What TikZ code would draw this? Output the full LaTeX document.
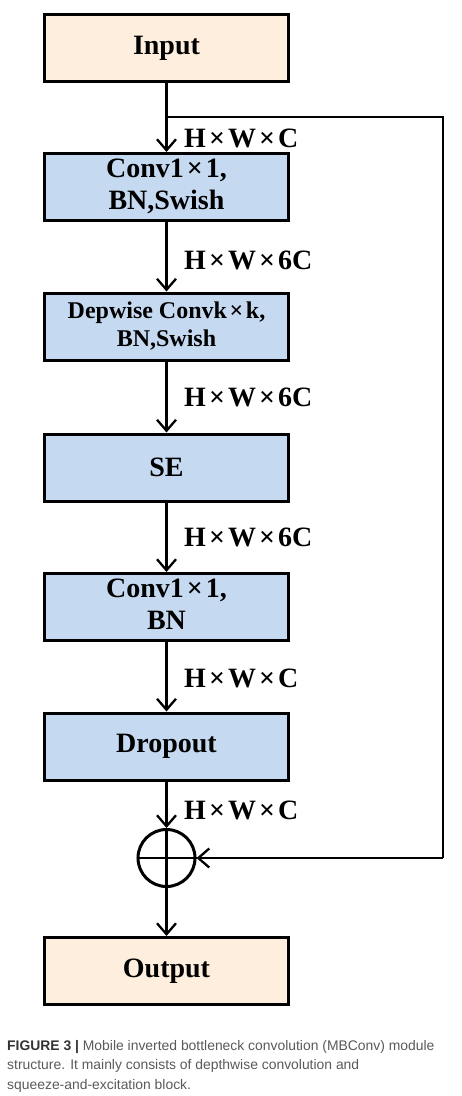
\documentclass[tikz,border=0pt]{standalone}
\usepackage{fontspec}
\setmainfont{Liberation Serif}
\newfontfamily\capfont{Liberation Sans}
\usetikzlibrary{arrows.meta}
\definecolor{peach}{HTML}{FDEEDD}
\definecolor{lblue}{HTML}{C5D9F1}
\definecolor{capdark}{HTML}{333333}
\definecolor{capgray}{HTML}{5A5A5A}
\newcommand\tms{\kern0.11em×\kern0.11em}
\begin{document}
\begin{tikzpicture}[x=1pt,y=-1pt,
  blk/.style={draw=black,line width=3pt,minimum width=244pt,minimum height=67pt,inner sep=0pt,align=center,font=\bfseries\fontsize{28}{33}\selectfont},
  ioblk/.style={blk,fill=peach},
  opblk/.style={blk,fill=lblue},
  lbl/.style={anchor=west,inner sep=0pt,font=\bfseries\fontsize{28}{33}\selectfont},
  conn/.style={line width=2.3pt},
  arr/.style={conn,-{Straight Barb[length=11pt,width=19pt,line width=2.3pt]}}]
\useasboundingbox (0,0) rectangle (462,1096);
\fill[white] (0,0) rectangle (462,1096);
\node[ioblk] (in) at (166.5,48) {Input};
\node[opblk] (c1) at (166.5,187) {\raisebox{-2pt}{\begin{tabular}{@{}c@{}}Conv1\tms1,\\[-1pt]BN,Swish\end{tabular}}};
\node[opblk,font=\bfseries\fontsize{24}{28}\selectfont] (dw) at (166.5,326.5) {Depwise Convk\tms k,\\BN,Swish};
\node[opblk] (se) at (166.5,467.5) {SE};
\node[opblk] (c2) at (166.5,607) {\raisebox{-2pt}{\begin{tabular}{@{}c@{}}Conv1\tms1,\\[-1pt]BN\end{tabular}}};
\node[opblk] (dr) at (166.5,746.5) {Dropout};
\node[draw=black,line width=3pt,circle,minimum size=57pt,inner sep=0pt] (add) at (166.5,858) {};
\node[ioblk] (out) at (166.5,971) {Output};
\coordinate (sp) at (166.5,117);
\coordinate (r1) at (443,117);
\coordinate (r2) at (443,858);
\draw[arr] (in) -- (c1);
\draw[arr] (c1) -- (dw);
\draw[arr] (dw) -- (se);
\draw[arr] (se) -- (c2);
\draw[arr] (c2) -- (dr);
\draw[arr] (dr) -- (add);
\draw[arr] (add) -- (out);
\draw[conn] (add.north) -- (add.south);
\draw[conn] (add.west) -- (add.east);
\draw[conn,line join=miter] (sp) -- (r1) -- (r2);
\draw[arr] (r2) -- (add.east);
\node[lbl] (l1) at (184,138) {H\tms W\tms C};
\node[lbl] (l2) at (184,260) {H\tms W\tms 6C};
\node[lbl] (l3) at (184,397) {H\tms W\tms 6C};
\node[lbl] (l4) at (184,537) {H\tms W\tms 6C};
\node[lbl] (l5) at (184,678) {H\tms W\tms C};
\node[lbl] (l6) at (184,810) {H\tms W\tms C};
\node[anchor=base west,inner sep=0pt,align=left,text=capgray,font=\capfont\fontsize{13.9}{19.3}\selectfont] (cap) at (7,1089)
 {{\color{capdark}\bfseries FIGURE 3 |} Mobile inverted bottleneck convolution (MBConv) module\\structure. It mainly consists of depthwise convolution and\\squeeze-and-excitation block.};
\end{tikzpicture}
\end{document}
